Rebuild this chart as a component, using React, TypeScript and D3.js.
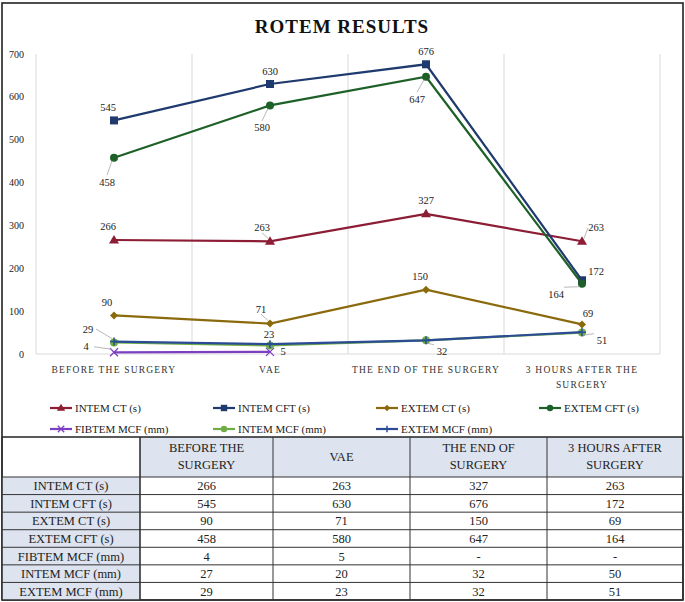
import * as d3 from 'd3'

const W = 685
const H = 602

const categories = ['BEFORE THE SURGERY', 'VAE', 'THE END OF THE SURGERY', '3 HOURS AFTER THE SURGERY']
const tableHeaders = ['BEFORE THE SURGERY', 'VAE', 'THE END OF SURGERY', '3 HOURS AFTER SURGERY']

const intemCT = [266, 263, 327, 263]
const intemCFT = [545, 630, 676, 172]
const extemCT = [90, 71, 150, 69]
const extemCFT = [458, 580, 647, 164]
const fibtemMCF: (number | null)[] = [4, 5, null, null]
const intemMCF = [27, 20, 32, 50]
const extemMCF = [29, 23, 32, 51]

const yTicks = [0, 100, 200, 300, 400, 500, 600, 700]

type Shape = 'triangle' | 'square' | 'diamond' | 'circle' | 'x' | 'plus'

// label offsets from the point: [dx, dy, leader?]
type Off = [number, number, boolean] | null

const series: { name: string; values: (number | null)[]; color: string; shape: Shape; labels: Off[] }[] = [
  { name: 'INTEM CT (s)', values: intemCT, color: '#8c1d34', shape: 'triangle',
    labels: [[-6, -10, false], [-8, -10, true], [0, -10, false], [14, -10, true]] },
  { name: 'INTEM CFT (s)', values: intemCFT, color: '#1f3a6e', shape: 'square',
    labels: [[-6, -9, false], [0, -9, false], [0, -9, false], [14, -5, false]] },
  { name: 'EXTEM CT (s)', values: extemCT, color: '#8a6a0c', shape: 'diamond',
    labels: [[-7, -9, false], [-9, -11, true], [-6, -10, false], [6, -7, false]] },
  { name: 'EXTEM CFT (s)', values: extemCFT, color: '#1e6128', shape: 'circle',
    labels: [[-7, 28, true], [-8, 26, true], [-9, 26, true], [-26, 14, true]] },
  { name: 'FIBTEM MCF (mm)', values: fibtemMCF, color: '#7b3fc0', shape: 'x',
    labels: [[-28, -2, true], [13, 3, false], null, null] },
  { name: 'INTEM MCF (mm)', values: intemMCF, color: '#6fae45', shape: 'circle',
    labels: [null, null, null, null] },
  { name: 'EXTEM MCF (mm)', values: extemMCF, color: '#2b4c95', shape: 'plus',
    labels: [[-26, -9, true], [-1, -6, false], [16, 15, true], [20, 12, true]] },
]

const FONT = '"Liberation Serif", "DejaVu Serif", serif'

const x = d3.scaleBand<string>().domain(categories).range([36, 660])
const y = d3.scaleLinear().domain([0, 700]).range([354, 54])

function Marker({ shape, cx, cy, color, size = 1 }: { shape: Shape; cx: number; cy: number; color: string; size?: number }) {
  const s = 4 * size
  switch (shape) {
    case 'triangle':
      return <path d={`M${cx},${cy - s - 1}L${cx + s + 1},${cy + s - 0.5}L${cx - s - 1},${cy + s - 0.5}Z`} fill={color} />
    case 'square':
      return <rect x={cx - s} y={cy - s} width={2 * s} height={2 * s} fill={color} />
    case 'diamond':
      return <path d={`M${cx},${cy - s}L${cx + s},${cy}L${cx},${cy + s}L${cx - s},${cy}Z`} fill={color} />
    case 'circle':
      return <circle cx={cx} cy={cy} r={s} fill={color} />
    case 'x':
      return (
        <path d={`M${cx - s},${cy - s}L${cx + s},${cy + s}M${cx - s},${cy + s}L${cx + s},${cy - s}`}
          stroke={color} strokeWidth={1.3} />
      )
    case 'plus':
      return (
        <path d={`M${cx - s},${cy}L${cx + s},${cy}M${cx},${cy - s}L${cx},${cy + s}`}
          stroke={color} strokeWidth={1.5} />
      )
  }
}

export default function App() {
  const cx = (i: number) => (x(categories[i]) as number) + x.bandwidth() / 2
  const line = d3.line<[number, number]>().x(d => d[0]).y(d => d[1])

  // table geometry
  const colX = [2, 140, 273, 410, 547, 683]
  const headTop = 437
  const headBot = 477
  const rowH = (600 - headBot) / 7
  const rows = series.map(s => s.name)
  const cellFill = '#dde3ef'

  const xLabelLines = [['BEFORE THE SURGERY'], ['VAE'], ['THE END OF THE SURGERY'], ['3 HOURS AFTER THE', 'SURGERY']]

  return (
    <svg width={W} height={H} style={{ position: 'absolute', left: 0, top: 0, background: '#fff' }} fontFamily={FONT}>
      {/* outer frame */}
      <rect x={2} y={3} width={681} height={597} fill="none" stroke="#222" strokeWidth={1.6} />

      <text x={342} y={33} textAnchor="middle" fontSize={19} fontWeight="bold" letterSpacing={1} fill="#111">
        ROTEM RESULTS
      </text>

      {/* vertical grid lines */}
      {[...categories.map(c => x(c) as number), 660].map((gx, i) => (
        <line key={i} x1={gx} x2={gx} y1={54} y2={354} stroke="#d9d9d9" strokeWidth={1} />
      ))}
      <line x1={36} x2={660} y1={y(0)} y2={y(0)} stroke="#d9d9d9" strokeWidth={1} />

      {yTicks.map(t => (
        <text key={t} x={24} y={y(t) + 3.5} textAnchor="end" fontSize={10} fill="#222">{t}</text>
      ))}

      {xLabelLines.map((lines, i) => lines.map((l, j) => (
        <text key={`${i}-${j}`} x={cx(i)} y={373 + j * 15} textAnchor="middle" fontSize={9.5}
          letterSpacing={1.2} fill="#333">{l}</text>
      )))}

      {/* lines + markers */}
      {series.map(s => {
        const pts = s.values
          .map((v, i) => (v == null ? null : [cx(i), y(v)] as [number, number]))
          .filter((p): p is [number, number] => p !== null)
        return (
          <g key={s.name}>
            <path d={line(pts) || ''} fill="none" stroke={s.color} strokeWidth={2.2} />
            {pts.map((p, i) => (
              <Marker key={i} shape={s.shape} cx={p[0]} cy={p[1]} color={s.color} />
            ))}
          </g>
        )
      })}

      {/* data labels */}
      {series.map(s => s.values.map((v, i) => {
        const off = s.labels[i]
        if (v == null || !off) return null
        const px = cx(i)
        const py = y(v)
        const tx = px + off[0]
        const ty = py + off[1]
        const midY = ty - 3.5
        return (
          <g key={`${s.name}-${i}`}>
            {off[2] && (
              <polyline
                points={`${tx + (off[0] < -15 ? 8 : off[0] > 12 ? -8 : 0)},${off[1] > 0 ? midY - 7 : midY + (Math.abs(off[0]) > 12 ? 0 : 5)} ${px + (off[0] < 0 ? -2 : 2)},${py + (off[1] > 0 ? 3 : -3)}`}
                fill="none" stroke="#a6a6a6" strokeWidth={0.8} />
            )}
            <text x={tx} y={ty} textAnchor="middle" fontSize={10.5} fill="#222">{v}</text>
          </g>
        )
      }))}

      {/* legend */}
      {series.map((s, i) => {
        const lx = 50 + (i % 4) * 163
        const ly = 408 + Math.floor(i / 4) * 21
        return (
          <g key={s.name}>
            <line x1={lx} x2={lx + 22} y1={ly} y2={ly} stroke={s.color} strokeWidth={2.2} />
            <Marker shape={s.shape} cx={lx + 11} cy={ly} color={s.color} size={0.8} />
            <text x={lx + 25} y={ly + 4} fontSize={11} fill="#222">{s.name}</text>
          </g>
        )
      })}

      {/* table */}
      <rect x={colX[1]} y={headTop} width={colX[5] - colX[1]} height={headBot - headTop} fill={cellFill} />
      <rect x={colX[0]} y={headBot} width={colX[1] - colX[0]} height={600 - headBot} fill={cellFill} />
      {tableHeaders.map((h, i) => {
        const words = h.split(' ')
        const lines = h === 'VAE' ? ['VAE'] : [words.slice(0, words.length - 1).join(' '), words[words.length - 1]]
        const mx = (colX[i + 1] + colX[i + 2]) / 2
        return lines.map((l, j) => (
          <text key={`${i}-${j}`} x={mx} y={lines.length === 1 ? 461 : 452 + j * 17} textAnchor="middle"
            fontSize={12.5} fill="#222">{l}</text>
        ))
      })}
      {rows.map((r, ri) => {
        const ty = headBot + ri * rowH + rowH / 2 + 4.5
        return (
          <g key={r}>
            <text x={(colX[0] + colX[1]) / 2} y={ty} textAnchor="middle" fontSize={12.5} fill="#222">{r}</text>
            {series[ri].values.map((v, ci) => (
              <text key={ci} x={(colX[ci + 1] + colX[ci + 2]) / 2} y={ty} textAnchor="middle" fontSize={12.5}
                fill="#222">{v == null ? '-' : v}</text>
            ))}
          </g>
        )
      })}
      {d3.range(8).map(i => (
        <line key={`h${i}`} x1={colX[0]} x2={colX[5]} y1={headBot + i * rowH} y2={headBot + i * rowH}
          stroke="#333" strokeWidth={i === 7 ? 1.6 : 1} />
      ))}
      <line x1={colX[0]} x2={colX[5]} y1={headTop} y2={headTop} stroke="#222" strokeWidth={1.6} />
      {colX.map((cxv, i) => (
        <line key={`v${i}`} x1={cxv} x2={cxv} y1={headTop} y2={600} stroke="#333"
          strokeWidth={i === 0 || i === 5 || i === 1 ? 1.6 : 1} />
      ))}
    </svg>
  )
}
